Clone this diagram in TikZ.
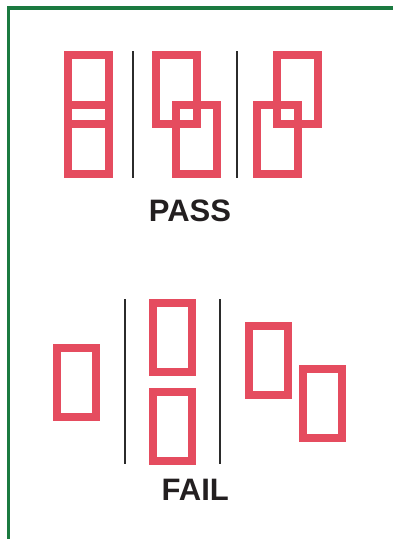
\documentclass[tikz,border=0pt]{standalone}
\usepackage{fontspec}
\setmainfont{Liberation Sans}
\usepackage{xcolor}
\usepackage{tikz}
\definecolor{boxred}{HTML}{E54C5F}
\definecolor{frame}{HTML}{1B7A40}
\definecolor{bar}{HTML}{2B2B2B}
\definecolor{ink}{HTML}{231F20}
\begin{document}
\begin{tikzpicture}[x=1pt,y=-1pt,
 pbox/.style={draw=boxred,line width=7.7pt,minimum width=41.3pt,minimum height=69.3pt,inner sep=0pt},
 fbox/.style={draw=boxred,line width=7.7pt,minimum width=39pt,minimum height=69pt,inner sep=0pt},
 divider/.style={draw=bar,line width=2pt},
 verdict/.style={text=ink,font=\fontsize{31}{31}\selectfont\bfseries,inner sep=0pt}]
\useasboundingbox (0,0) rectangle (393,539);
\draw[frame,line width=3.4pt](393,8)--(8.5,8)--(8.5,539);
\node[pbox](passA1) at (88.5,89.5){};
\node[pbox](passA2) at (88.5,139.5){};
\node[pbox](passB1) at (176.5,89.5){};
\node[pbox](passB2) at (196.5,139.5){};
\node[pbox](passC1) at (297.5,89.5){};
\node[pbox](passC2) at (277.5,139.5){};
\draw[divider](132.5,51)--(132.5,178)
(237,51)--(237,178);
\node[verdict](pass) at (190,210.5){PASS};
\node[fbox](failD) at (76.5,382.5){};
\node[fbox](failE1) at (172.3,337.5){};
\node[fbox](failE2) at (172.3,426.5){};
\node[fbox](failF1) at (268.3,360.5){};
\node[fbox](failF2) at (322.3,403.5){};
\draw[divider](124.7,299.3)--(124.7,464.3)
(220.3,299.3)--(220.3,464.3);
\node[verdict](fail) at (195.3,489.7){FAIL};
\end{tikzpicture}
\end{document}
